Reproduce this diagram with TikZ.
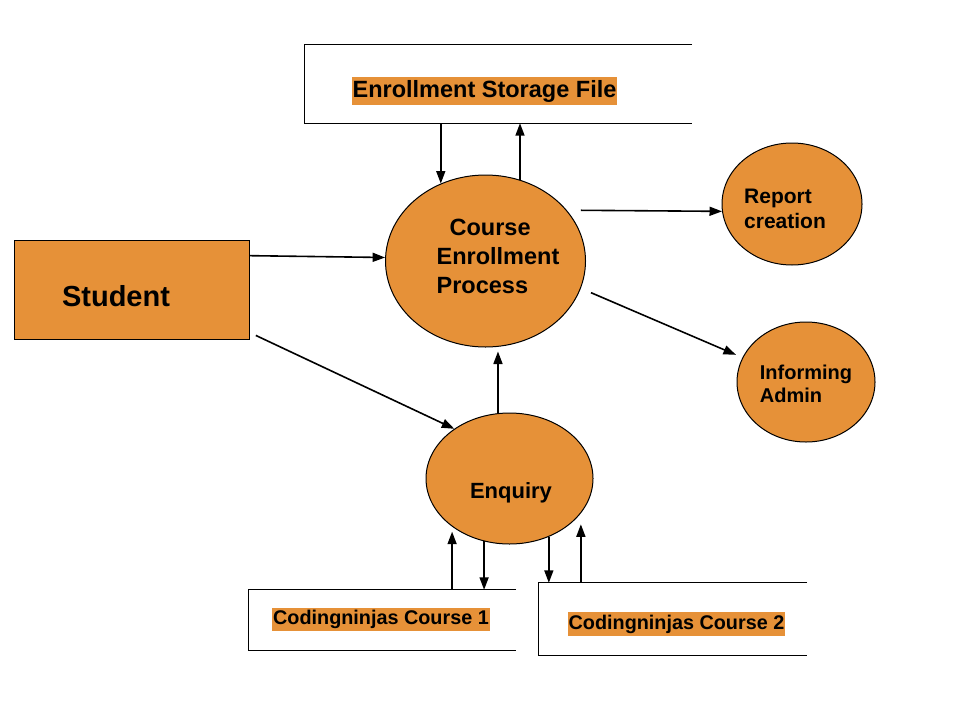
\documentclass[tikz,border=0pt]{standalone}
\usepackage{fontspec}
\setmainfont{Liberation Sans}
\usetikzlibrary{shapes.geometric,arrows.meta}
\definecolor{fillorange}{HTML}{E69138}
\tikzset{
  procnode/.style={ellipse,draw,line width=1pt,fill=fillorange,inner sep=0pt},
  extnode/.style={rectangle,draw,line width=1pt,fill=fillorange,inner sep=0pt},
  storenode/.style={rectangle,inner sep=0pt},
  storetext/.style={fill=fillorange,inner xsep=1pt,inner ysep=3pt},
  storeline/.style={line width=1.2pt},
  flowline/.style={-{Triangle[length=12.5pt,width=9pt]},line width=1.6pt}
}

\begin{document}
\begin{tikzpicture}[x=1pt,y=-1pt]
\useasboundingbox (0,0) rectangle (960,720);
% entity and processes
\node[extnode,minimum width=235pt,minimum height=99pt,
  label={[xshift=-15.5pt,yshift=-6.5pt,font=\bfseries\fontsize{29}{34}\selectfont]center:Student}] (student) at (131.5,289.5) {};
\node[procnode,minimum width=200pt,minimum height=172pt,
  label={[xshift=12.5pt,yshift=5pt,align=left,font=\bfseries\fontsize{23.5}{29}\selectfont]center:{\hspace*{13pt}Course\\Enrollment\\Process}}] (cep) at (485.5,261) {};
\node[procnode,minimum width=140pt,minimum height=122pt,
  label={[xshift=-7pt,yshift=-4.5pt,align=left,font=\bfseries\fontsize{21}{25}\selectfont]center:{Report\\creation}}] (rep) at (792,204) {};
\node[procnode,minimum width=138pt,minimum height=120pt,
  label={[yshift=-2pt,align=left,font=\bfseries\fontsize{20}{23}\selectfont]center:{Informing\\Admin}}] (adm) at (806,382) {};
\node[procnode,minimum width=167pt,minimum height=131pt,
  label={[xshift=1.5pt,yshift=-14pt,font=\bfseries\fontsize{22}{26}\selectfont]center:Enquiry}] (enq) at (509.5,478.5) {};
% data stores
\node[storenode,minimum width=387pt,minimum height=78pt,
  label={[storetext,xshift=-14pt,yshift=-7pt,font=\bfseries\fontsize{23.5}{28}\selectfont]center:Enrollment Storage File}] (efile) at (498.5,84) {};
\draw[storeline] (efile.north east) -- (efile.north west) -- (efile.south west) -- (efile.south east);
\node[storenode,minimum width=267pt,minimum height=60pt,
  label={[storetext,inner ysep=2.5pt,xshift=-1.5pt,yshift=0.5pt,font=\bfseries\fontsize{19.8}{24}\selectfont]center:Codingninjas Course 1}] (cone) at (382.5,620) {};
\draw[storeline] (cone.north east) -- (cone.north west) -- (cone.south west) -- (cone.south east);
\node[storenode,minimum width=268pt,minimum height=72pt,
  label={[storetext,inner ysep=2.5pt,xshift=3.5pt,yshift=-5pt,font=\bfseries\fontsize{19.8}{24}\selectfont]center:Codingninjas Course 2}] (ctwo) at (673,619) {};
\draw[storeline] (ctwo.north east) -- (ctwo.north west) -- (ctwo.south west) -- (ctwo.south east);
% flows
\draw[flowline] (efile.south -| cep.120) -- (cep.120);
\draw[flowline] (cep.67) -- (cep.67 |- efile.south);
\draw[flowline] (student.16) -- (cep.178);
\draw[flowline,shorten <=7pt] (student.-20) -- (enq.138);
\draw[flowline,shorten >=4pt] (enq.100) -- (enq.100 |- cep.south);
\draw[flowline,shorten <=14pt] (cep.32) -- (rep.186);
\draw[flowline,shorten <=11pt,shorten >=7pt] (cep.-16) -- (adm.159);
\draw[flowline,shorten >=5pt] (cone.north -| enq.220) -- (enq.220);
\draw[flowline] (enq.248) -- (enq.248 |- cone.north);
\draw[flowline] (enq.304) -- (enq.304 |- ctwo.north);
\draw[flowline,shorten >=11pt] (ctwo.north -| enq.334) -- (enq.334);
\end{tikzpicture}
\end{document}
